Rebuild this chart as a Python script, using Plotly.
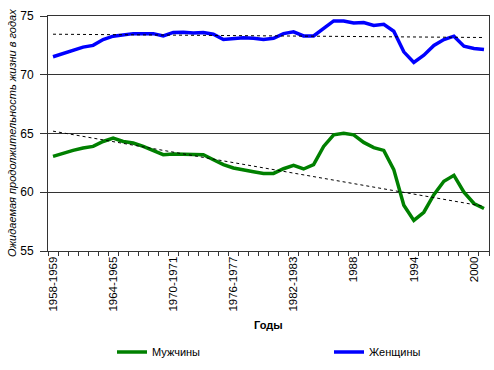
import plotly.graph_objects as go

categories = ([f"{y}-{y+1}" for y in range(1958, 1987)] + ["1987"]
              + [str(y) for y in range(1988, 2002)])

women = [71.53, 71.8, 72.1, 72.35, 72.5, 73.0, 73.28, 73.42, 73.5, 73.5,
         73.5, 73.3, 73.6, 73.62, 73.55, 73.6, 73.45, 73.0, 73.1, 73.15,
         73.1, 73.0, 73.1, 73.5, 73.65, 73.3, 73.3, 73.98, 74.58, 74.58,
         74.4, 74.45, 74.2, 74.3, 73.7, 71.95, 71.05, 71.67, 72.5, 73.0,
         73.28, 72.43, 72.24, 72.15]
men = [63.05, 63.34, 63.56, 63.76, 63.9, 64.32, 64.6, 64.32, 64.19, 63.9,
       63.56, 63.2, 63.25, 63.25, 63.25, 63.2, 62.77, 62.35, 62.07, 61.88,
       61.75, 61.6, 61.6, 62.0, 62.29, 61.98, 62.35, 63.9, 64.89, 65.03,
       64.89, 64.24, 63.8, 63.56, 61.93, 58.9, 57.6, 58.3, 59.8, 60.93,
       61.44, 60.0, 59.04, 58.62]

women_trend = [73.45, 73.17]
men_trend = [65.2, 58.8]

label_every = 6
ticktext = [c if i % label_every == 0 else "" for i, c in enumerate(categories)]

font = "Liberation Sans, Arial, sans-serif"

fig = go.Figure()
fig.add_trace(go.Scatter(x=categories, y=men, mode="lines", name="Мужчины", legend="legend",
                         line=dict(color="#008000", width=3.5)))
fig.add_trace(go.Scatter(x=categories, y=women, mode="lines", name="Женщины", legend="legend2",
                         line=dict(color="#0000FF", width=3.5)))
fig.add_trace(go.Scatter(x=[categories[0], categories[-1]], y=women_trend, mode="lines",
                         showlegend=False, line=dict(color="black", width=1, dash="3px,3px")))
fig.add_trace(go.Scatter(x=[categories[0], categories[-1]], y=men_trend, mode="lines",
                         showlegend=False, line=dict(color="black", width=1, dash="3px,3px")))

leg_common = dict(orientation="h", yref="container", y=1 - 352 / 370, yanchor="middle",
                  xanchor="left", font=dict(family=font, size=11, color="black"),
                  bgcolor="rgba(0,0,0,0)", itemwidth=30)

fig.update_layout(
    width=494, height=370,
    margin=dict(l=48, r=5, t=16, b=119, autoexpand=False),
    paper_bgcolor="white", plot_bgcolor="white",
    font=dict(family=font, size=11, color="black"),
    showlegend=True,
    legend=dict(x=(112 - 48) / 441, **leg_common),
    legend2=dict(x=(329 - 48) / 441, **leg_common),
    xaxis=dict(type="category", categoryorder="array", categoryarray=categories,
               tickmode="array", tickvals=categories, ticktext=ticktext,
               tickson="boundaries", ticks="outside", ticklen=4, tickcolor="#333",
               tickangle=-90, showgrid=False, showline=True, linecolor="#333",
               linewidth=1, mirror=True, range=[-0.5, len(categories) - 0.5],
               automargin=False, tickfont=dict(family=font, size=11.5)),
    yaxis=dict(range=[55, 75], dtick=5, tick0=55, ticks="outside", ticklen=7,
               tickcolor="#333", showgrid=True, gridcolor="#333", gridwidth=1,
               showline=True, linecolor="#333", linewidth=1, mirror=True,
               zeroline=False, automargin=False, ticklabelstandoff=4,
               tickfont=dict(family=font, size=12)),
    annotations=[
        dict(text="<b>Годы</b>", xref="paper", yref="paper", x=0.5, y=(251 - 325) / 235,
             xanchor="center", yanchor="middle", showarrow=False,
             font=dict(family=font, size=11, color="black")),
        dict(text="<i>Ожидаемая продолжительность жизни в годах</i>", xref="paper", yref="paper",
             x=(12 - 48) / 441, y=(251 - 133) / 235, xanchor="center", yanchor="middle",
             textangle=-90, showarrow=False,
             font=dict(family=font, size=11, color="black")),
    ],
)

fig.write_html("out.html")
